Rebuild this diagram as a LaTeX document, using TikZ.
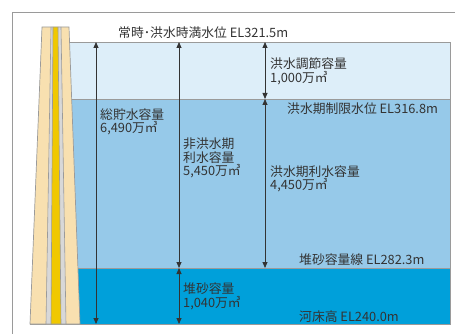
\documentclass[tikz,border=0pt]{standalone}
\usepackage{fontspec}
\setmainfont{Noto Sans CJK JP}
\usetikzlibrary{arrows.meta}
\definecolor{waterTop}{HTML}{DDEEF9}
\definecolor{waterMid}{HTML}{96C9E9}
\definecolor{waterLow}{HTML}{00A0DA}
\definecolor{damTan}{HTML}{F8E0B0}
\definecolor{damCore}{HTML}{F0C800}
\definecolor{damGrey}{HTML}{D8D8D8}
\definecolor{edgeGrey}{HTML}{9A9A9A}
\definecolor{inkGrey}{HTML}{333333}
\tikzset{
  label/.style={text=inkGrey, font=\fontsize{12.8}{13.5}\selectfont, align=left, anchor=west, inner sep=0pt},
  dim/.style={draw=inkGrey, line width=0.8pt, {Triangle[length=6pt,width=5pt]}-{Triangle[length=6pt,width=5pt]}},
  rim/.style={draw=edgeGrey, line width=0.9pt},
}
\begin{document}
\begin{tikzpicture}[x=1pt,y=-1pt]
\useasboundingbox (0,0) rectangle (455,334);
% frame
\draw[rim] (12,334) -- (12,12) -- (455,12);
% reservoir layers
\fill[waterTop] (60,42) rectangle (450,99);
\fill[waterMid] (60,99) rectangle (450,268);
\fill[waterLow] (60,268) rectangle (450,324);
\draw[rim] (60,42) -- (450,42) -- (450,324) -- (30,324);
\draw[rim] (60,99) -- (450,99);
\draw[rim] (60,268) -- (450,268);
% dam body
\fill[damTan] (42,27) -- (69,27) -- (80,324) -- (30,324) -- cycle;
\fill[damGrey] (51,27) -- (53,27) -- (51,324) -- (46,324) -- cycle;
\fill[damGrey] (58,27) -- (61,27) -- (66,324) -- (61,324) -- cycle;
\fill[damCore] (53,27) -- (58,27) -- (61,324) -- (51,324) -- cycle;
\draw[rim, line width=0.7pt] (42,27) -- (69,27) -- (80,324) -- (30,324) -- cycle;
\draw[rim, line width=0.6pt] (51,27) -- (46,324) (53,27) -- (51,324) (58,27) -- (61,324) (61,27) -- (66,324);
% level points
\coordinate (a1) at (96,42);  \coordinate (a2) at (96,324);
\coordinate (b1) at (179,42); \coordinate (b2) at (179,268); \coordinate (b3) at (179,324);
\coordinate (c1) at (265,42); \coordinate (c2) at (265,99);  \coordinate (c3) at (265,268);
% dimension arrows
\draw[dim] (a1) -- (a2);
\draw[dim] (b1) -- (b2);
\draw[dim] (b2) -- (b3);
\draw[dim] (c1) -- (c2);
\draw[dim] (c2) -- (c3);
% labels
\node[label] (hwl) at (118,33) {常時･洪水時満水位 EL321.5m};
\node[label] (tot) at (100,122) {総貯水容量\\6,490万㎥};
\node[label] (nfl) at (183,158) {非洪水期\\利水容量\\5,450万㎥};
\node[label] (fcv) at (270,71.5) {洪水調節容量\\1,000万㎥};
\node[label] (fwl) at (287,108.3) {洪水期制限水位 EL316.8m};
\node[label] (fuv) at (270,179) {洪水期利水容量\\4,450万㎥};
\node[label] (sdl) at (299,260) {堆砂容量線 EL282.3m};
\node[label] (sdv) at (183,296.5) {堆砂容量\\1,040万㎥};
\node[label] (rbd) at (299,316.7) {河床高 EL240.0m};
\end{tikzpicture}
\end{document}
